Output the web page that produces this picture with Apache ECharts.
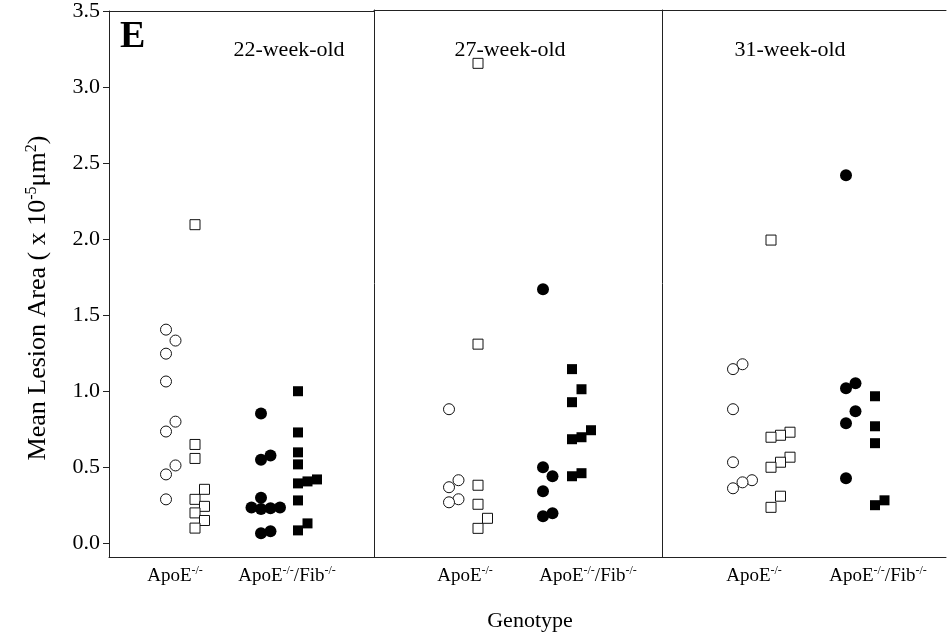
<!DOCTYPE html>
<html>
<head>
<meta charset="utf-8">
<script src="https://cdn.jsdelivr.net/npm/echarts@6/dist/echarts.min.js"></script>
<style>
  html, body { margin: 0; padding: 0; background: #fff; }
  #chart { width: 951px; height: 637px; }
</style>
</head>
<body>
<div id="chart"></div>
<script>
// ---- data ----
var panelNames = ["22-week-old", "27-week-old", "31-week-old"];
var genotypes = ["ApoE-/-", "ApoE-/-/Fib-/-"];
var yTicks = [0, 0.5, 1, 1.5, 2, 2.5, 3, 3.5];

// 22-week-old
var w22ApoeCircle = [1.405, 1.333, 1.247, 1.064, 0.80, 0.735, 0.512, 0.453, 0.289];
var w22ApoeCircleCol = [0, 1, 0, 0, 1, 0, 1, 0, 0];
var w22ApoeSquare = [2.095, 0.65, 0.558, 0.355, 0.289, 0.243, 0.20, 0.15, 0.10];
var w22ApoeSquareCol = [0, 0, 0, 1, 0, 1, 0, 1, 0];
var w22FibCircle = [0.853, 0.578, 0.55, 0.30, 0.236, 0.225, 0.23, 0.236, 0.066, 0.079];
var w22FibCircleCol = [0, 1, 0, 0, -1, 0, 1, 2, 0, 1];
var w22FibSquare = [1.00, 0.729, 0.598, 0.519, 0.394, 0.407, 0.42, 0.282, 0.131, 0.085];
var w22FibSquareCol = [0, 0, 0, 0, 0, 1, 2, 0, 1, 0];

// 27-week-old
var w27ApoeCircle = [0.88, 0.414, 0.368, 0.289, 0.269];
var w27ApoeCircleCol = [0, 1, 0, 1, 0];
var w27ApoeSquare = [3.15, 1.307, 0.381, 0.256, 0.164, 0.098];
var w27ApoeSquareCol = [0, 0, 0, 0, 1, 0];
var w27FibCircle = [1.668, 0.499, 0.44, 0.341, 0.197, 0.177];
var w27FibCircleCol = [0, 0, 1, 0, 1, 0];
var w27FibSquare = [1.143, 1.011, 0.926, 0.742, 0.696, 0.683, 0.46, 0.44];
var w27FibSquareCol = [0, 1, 0, 2, 1, 0, 1, 0];

// 31-week-old
var w31ApoeCircle = [1.175, 1.143, 0.88, 0.532, 0.414, 0.40, 0.361];
var w31ApoeCircleCol = [1, 0, 0, 0, 2, 1, 0];
var w31ApoeSquare = [1.99, 0.729, 0.709, 0.696, 0.565, 0.532, 0.499, 0.309, 0.236];
var w31ApoeSquareCol = [0, 2, 1, 0, 2, 1, 0, 1, 0];
var w31FibCircle = [2.416, 1.05, 1.018, 0.867, 0.788, 0.427];
var w31FibCircleCol = [0, 1, 0, 1, 0, 0];
var w31FibSquare = [0.965, 0.768, 0.657, 0.282, 0.25];
var w31FibSquareCol = [0, 0, 0, 1, 0];

// ---- layout ----
var FONT = "Liberation Serif";
var panels = [
  { left: 109, width: 265, labelX: [66, 178], base: [57, 86, 152, 189],
    groups: [[w22ApoeCircle, w22ApoeCircleCol], [w22ApoeSquare, w22ApoeSquareCol], [w22FibCircle, w22FibCircleCol], [w22FibSquare, w22FibSquareCol]], titleX: 284 },
  { left: 374, width: 288, labelX: [91, 214], base: [75, 104, 169, 198],
    groups: [[w27ApoeCircle, w27ApoeCircleCol], [w27ApoeSquare, w27ApoeSquareCol], [w27FibCircle, w27FibCircleCol], [w27FibSquare, w27FibSquareCol]], titleX: 505 },
  { left: 662, width: 284, labelX: [92, 216], base: [71, 109, 184, 213],
    groups: [[w31ApoeCircle, w31ApoeCircleCol], [w31ApoeSquare, w31ApoeSquareCol], [w31FibCircle, w31FibCircleCol], [w31FibSquare, w31FibSquareCol]], titleX: 785 }
];
var colStep = 9.5;
var markStyles = [
  { symbol: "circle", symbolSize: 11, itemStyle: { color: "#fff", borderColor: "#111", borderWidth: 1, opacity: 1 } },
  { symbol: "rect", symbolSize: 10, itemStyle: { color: "#fff", borderColor: "#111", borderWidth: 1, opacity: 1 } },
  { symbol: "circle", symbolSize: 12, itemStyle: { color: "#000", opacity: 1 } },
  { symbol: "rect", symbolSize: 10, itemStyle: { color: "#000", opacity: 1 } }
];
var lineStyle = { color: "#222", width: 1 };
var supRich = {
  b: { fontFamily: FONT, fontSize: 19, color: "#000", lineHeight: 22 },
  s: { fontFamily: FONT, fontSize: 12, color: "#000", verticalAlign: "top", lineHeight: 22 }
};

function labelText(name) {
  return name === genotypes[0] ? "{b|ApoE}{s|-/-}" : "{b|ApoE}{s|-/-}{b|/Fib}{s|-/-}";
}

var grids = [], xAxes = [], yAxes = [], series = [], titles = [];

panels.forEach(function (p, i) {
  grids.push({ left: p.left, width: p.width, top: 10, bottom: 80 });

  xAxes.push({
    type: "value", gridIndex: i, min: 0, max: p.width, position: "bottom",
    axisLine: { show: true, onZero: false, lineStyle: lineStyle },
    axisTick: { show: false },
    splitLine: { show: false },
    axisLabel: {
      customValues: p.labelX, margin: 8, rich: supRich,
      formatter: function (v) { return labelText(genotypes[p.labelX.indexOf(v)]); }
    }
  });
  xAxes.push({
    type: "value", gridIndex: i, min: 0, max: p.width, position: "top",
    axisLine: { show: true, onZero: false, lineStyle: lineStyle },
    axisTick: { show: false }, axisLabel: { show: false }, splitLine: { show: false }
  });

  var y = {
    type: "value", gridIndex: i, min: -0.09, max: 3.5,
    axisLine: { show: true, onZero: false, lineStyle: lineStyle },
    splitLine: { show: false },
    axisTick: { show: false },
    axisLabel: { show: false }
  };
  if (i === 0) {
    y.axisTick = { show: true, customValues: yTicks, length: 6, lineStyle: lineStyle };
    y.axisLabel = {
      show: true, customValues: yTicks, margin: 9,
      fontFamily: FONT, fontSize: 22, color: "#000",
      formatter: function (v) { return v.toFixed(1); }
    };
    y.name = "{b|Mean Lesion Area ( x 10}{s|-5}{b|\u03bcm}{s|2}{b|)}";
    y.nameLocation = "middle";
    y.nameGap = 57;
    y.nameRotate = 90;
    y.nameTextStyle = { padding: [0, 28, 0, 0], rich: {
      b: { fontFamily: FONT, fontSize: 26, color: "#000", lineHeight: 28 },
      s: { fontFamily: FONT, fontSize: 16, color: "#000", verticalAlign: "top", lineHeight: 28 }
    } };
  }
  yAxes.push(y);

  p.groups.forEach(function (g, k) {
    var vals = g[0], cols = g[1];
    series.push({
      type: "scatter", xAxisIndex: i * 2, yAxisIndex: i,
      symbol: markStyles[k].symbol, symbolSize: markStyles[k].symbolSize,
      itemStyle: markStyles[k].itemStyle,
      silent: true, animation: false,
      data: vals.map(function (v, j) { return [p.base[k] + cols[j] * colStep, v]; })
    });
  });

  titles.push({
    text: panelNames[i], left: p.titleX, top: 34, textAlign: "center",
    textStyle: { fontFamily: FONT, fontSize: 22, fontWeight: "normal", color: "#000" }
  });
});

titles.push({ text: "E", left: 115, top: 13, textStyle: { fontFamily: FONT, fontSize: 38, fontWeight: "bold", color: "#000" } });
titles.push({ text: "Genotype", left: 525, top: 605, textAlign: "center",
  textStyle: { fontFamily: FONT, fontSize: 22, fontWeight: "normal", color: "#000" } });

var myChart = echarts.init(document.getElementById("chart"));
myChart.setOption({
  animation: false,
  backgroundColor: "#fff",
  title: titles,
  grid: grids,
  xAxis: xAxes,
  yAxis: yAxes,
  series: series
});
</script>
</body>
</html>
